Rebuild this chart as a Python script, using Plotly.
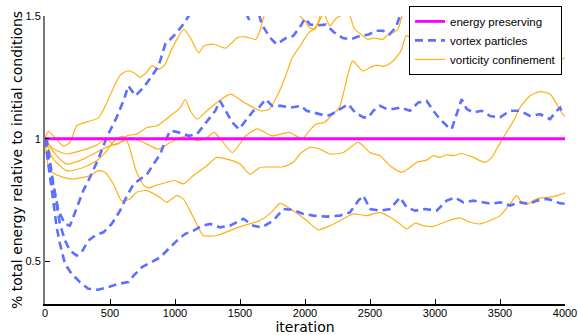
import plotly.graph_objects as go

# ---------------- data ----------------
x_ticks = [0, 500, 1000, 1500, 2000, 2500, 3000, 3500, 4000]
y_ticks = [0.5, 1.0, 1.5]
y_tick_labels = ["0.5", "1", "1.5"]

ep_iter = [0, 4000]
ep_val = [1.0, 1.0]

# vortex particles (dashed blue)
vp1_iter = [0, 13, 38, 64, 103, 154, 192, 244, 295, 346, 410, 474, 551, 603, 641, 695, 759, 823, 874, 925, 990, 1054, 1105, 1200, 1400, 1540, 1570, 1600, 1640, 1667, 1731, 1782, 1859, 1910, 1961, 2000, 2040, 2100, 2160, 2220, 2290, 2350, 2420, 2490, 2550, 2600, 2650, 2700, 2730, 2800, 3000, 4000]
vp1_val = [1.0, 1.0, 0.91, 0.815, 0.707, 0.653, 0.646, 0.72, 0.789, 0.843, 0.917, 1.005, 1.087, 1.154, 1.215, 1.175, 1.209, 1.256, 1.297, 1.385, 1.419, 1.459, 1.5, 1.6, 1.62, 1.52, 1.485, 1.52, 1.52, 1.466, 1.412, 1.385, 1.412, 1.419, 1.455, 1.49, 1.465, 1.462, 1.465, 1.435, 1.41, 1.405, 1.418, 1.425, 1.44, 1.44, 1.425, 1.455, 1.5, 1.56, 1.6, 1.6]

vp2_iter = [0, 38, 77, 115, 154, 192, 244, 282, 333, 385, 449, 513, 577, 631, 682, 785, 836, 887, 925, 964, 1028, 1105, 1169, 1221, 1272, 1310, 1346, 1441, 1492, 1544, 1603, 1646, 1697, 1748, 1813, 1890, 1967, 2013, 2064, 2115, 2167, 2205, 2269, 2333, 2385, 2449, 2487, 2526, 2577, 2628, 2679, 2731, 2808, 2872, 2936, 2987, 3038, 3090, 3128, 3167, 3205, 3244, 3295, 3359, 3423, 3500, 3577, 3654, 3731, 3808, 3885, 3936, 3962, 3987]
vp2_val = [1.0, 0.883, 0.761, 0.653, 0.585, 0.545, 0.524, 0.538, 0.585, 0.606, 0.619, 0.653, 0.707, 0.768, 0.816, 0.856, 0.897, 0.938, 0.992, 1.033, 1.026, 1.012, 1.019, 1.053, 1.087, 1.114, 1.154, 1.066, 1.039, 1.073, 1.114, 1.127, 1.161, 1.134, 1.134, 1.127, 1.134, 1.114, 1.107, 1.1, 1.093, 1.1, 1.121, 1.141, 1.107, 1.087, 1.087, 1.114, 1.134, 1.121, 1.121, 1.127, 1.114, 1.148, 1.154, 1.114, 1.08, 1.053, 1.039, 1.1, 1.161, 1.121, 1.107, 1.114, 1.093, 1.087, 1.114, 1.114, 1.093, 1.1, 1.08, 1.114, 1.127, 1.1]

vp3_iter = [0, 38, 64, 90, 115, 154, 205, 269, 333, 410, 487, 564, 641, 682, 746, 823, 887, 951, 1015, 1079, 1144, 1208, 1272, 1346, 1423, 1526, 1603, 1667, 1756, 1833, 1910, 1987, 2064, 2167, 2269, 2346, 2410, 2449, 2500, 2577, 2654, 2731, 2782, 2846, 2923, 3013, 3090, 3154, 3218, 3295, 3372, 3436, 3500, 3577, 3654, 3731, 3782, 3859, 3910, 3962, 4000]
vp3_val = [1.0, 0.843, 0.734, 0.639, 0.572, 0.49, 0.45, 0.416, 0.389, 0.385, 0.396, 0.409, 0.416, 0.443, 0.477, 0.497, 0.517, 0.552, 0.585, 0.613, 0.626, 0.646, 0.653, 0.639, 0.646, 0.674, 0.646, 0.639, 0.667, 0.714, 0.71, 0.694, 0.687, 0.683, 0.687, 0.70, 0.748, 0.768, 0.714, 0.707, 0.714, 0.761, 0.721, 0.707, 0.714, 0.707, 0.748, 0.761, 0.741, 0.748, 0.741, 0.735, 0.741, 0.728, 0.741, 0.735, 0.748, 0.755, 0.748, 0.737, 0.735]

# vorticity confinement (orange)
vc1_iter = [0, 25, 77, 141, 192, 244, 330, 410, 470, 520, 577, 631, 680, 733, 780, 823, 874, 920, 970, 1020, 1067, 1120, 1182, 1221, 1300, 1390, 1479, 1544, 1621, 1660, 1685, 1750, 1850, 1930, 1961, 2000, 2038, 2077, 2103, 2130, 2200, 2400, 3000, 4000]
vc1_val = [1.0, 1.03, 1.005, 0.97, 0.985, 1.053, 1.07, 1.085, 1.14, 1.2, 1.258, 1.276, 1.27, 1.25, 1.27, 1.297, 1.283, 1.30, 1.36, 1.41, 1.446, 1.41, 1.35, 1.378, 1.385, 1.369, 1.412, 1.415, 1.405, 1.45, 1.5, 1.56, 1.58, 1.54, 1.5, 1.48, 1.452, 1.446, 1.48, 1.52, 1.57, 1.6, 1.6, 1.6]

vc2_iter = [0, 60, 167, 300, 400, 470, 530, 580, 631, 708, 785, 862, 964, 1041, 1079, 1118, 1169, 1246, 1323, 1428, 1531, 1659, 1723, 1787, 1851, 1902, 1954, 2000, 2026, 2064, 2103, 2128, 2150, 2170, 2192, 2244, 2295, 2338, 2377, 2443, 2482, 2533, 2598, 2638, 2677, 2715, 2741, 2780, 3000, 4000]
vc2_val = [1.0, 0.96, 0.938, 0.955, 0.975, 1.0, 0.975, 0.985, 1.012, 1.02, 1.046, 1.053, 1.093, 1.127, 1.161, 1.114, 1.08, 1.114, 1.148, 1.182, 1.148, 1.114, 1.12, 1.175, 1.256, 1.33, 1.371, 1.41, 1.43, 1.446, 1.47, 1.50, 1.51, 1.48, 1.459, 1.493, 1.505, 1.51, 1.45, 1.42, 1.405, 1.41, 1.405, 1.425, 1.432, 1.446, 1.49, 1.55, 1.62, 1.62]

vc3_iter = [0, 60, 167, 295, 372, 450, 520, 600, 656, 759, 874, 964, 1092, 1169, 1246, 1300, 1350, 1441, 1544, 1633, 1748, 1877, 1979, 2030, 2085, 2148, 2213, 2264, 2302, 2341, 2367, 2400, 2443, 2500, 2550, 2600, 2662, 2700, 2740, 2780, 2850, 2950, 3050, 3090, 3126, 3200, 3305, 3350, 3423, 3480, 3551, 3577, 3615, 3680, 3756, 3820, 3900, 3974, 4000]
vc3_val = [1.0, 0.95, 0.897, 0.917, 0.938, 0.96, 0.975, 0.99, 1.005, 0.985, 0.958, 0.985, 1.012, 0.992, 1.005, 1.026, 1.0, 0.944, 1.012, 1.04, 1.012, 1.026, 1.0, 1.03, 1.06, 1.066, 1.1, 1.127, 1.2, 1.283, 1.317, 1.30, 1.276, 1.29, 1.30, 1.295, 1.31, 1.33, 1.36, 1.42, 1.40, 1.36, 1.33, 1.30, 1.27, 1.28, 1.263, 1.30, 1.317, 1.30, 1.30, 1.27, 1.324, 1.28, 1.283, 1.30, 1.31, 1.324, 1.33]

vc4_iter = [0, 60, 167, 295, 397, 474, 530, 590, 615, 650, 700, 760, 800, 850, 936, 1000, 1064, 1141, 1244, 1321, 1398, 1500, 1577, 1654, 1750, 1833, 1910, 1961, 2038, 2115, 2192, 2295, 2410, 2500, 2577, 2654, 2744, 2808, 2859, 2936, 2987, 3038, 3090, 3141, 3205, 3295, 3385, 3436, 3474, 3526, 3603, 3654, 3731, 3808, 3885, 3936, 3974, 4000]
vc4_val = [1.0, 0.92, 0.87, 0.883, 0.91, 0.951, 0.99, 1.01, 1.005, 0.965, 0.87, 0.81, 0.80, 0.81, 0.822, 0.83, 0.816, 0.85, 0.89, 0.924, 0.917, 0.897, 0.856, 0.883, 0.885, 0.886, 0.904, 0.938, 0.965, 0.958, 0.938, 0.944, 0.985, 0.944, 0.931, 0.89, 0.863, 0.883, 0.904, 0.913, 0.931, 0.924, 0.935, 0.931, 0.94, 0.924, 0.904, 0.924, 0.958, 1.005, 1.073, 1.127, 1.175, 1.192, 1.182, 1.141, 1.107, 1.09]

vc5_iter = [0, 38, 141, 218, 346, 410, 462, 526, 590, 654, 705, 782, 885, 936, 1013, 1064, 1141, 1218, 1321, 1423, 1526, 1654, 1740, 1808, 1910, 2013, 2102, 2192, 2295, 2372, 2474, 2577, 2654, 2731, 2782, 2846, 2910, 2987, 3090, 3192, 3269, 3346, 3423, 3500, 3577, 3628, 3667, 3705, 3756, 3808, 3910, 3974, 4000]
vc5_val = [1.0, 0.87, 0.843, 0.836, 0.85, 0.87, 0.863, 0.816, 0.748, 0.755, 0.782, 0.789, 0.761, 0.741, 0.768, 0.755, 0.68, 0.606, 0.606, 0.626, 0.646, 0.667, 0.70, 0.737, 0.707, 0.667, 0.629, 0.646, 0.674, 0.694, 0.687, 0.70, 0.68, 0.653, 0.633, 0.656, 0.646, 0.643, 0.664, 0.678, 0.66, 0.653, 0.667, 0.687, 0.735, 0.768, 0.741, 0.732, 0.748, 0.759, 0.764, 0.775, 0.78]

# ---------------- styles ----------------
ORANGE = "rgb(255,176,20)"
BLUE = "rgb(92,112,255)"
MAGENTA = "rgb(255,0,255)"

fig = go.Figure()

vc_series = [(vc1_iter, vc1_val), (vc2_iter, vc2_val), (vc3_iter, vc3_val),
             (vc4_iter, vc4_val), (vc5_iter, vc5_val)]
for i, (xs, ys) in enumerate(vc_series):
    fig.add_trace(go.Scatter(
        x=xs, y=ys, mode="lines", name="vorticity confinement",
        legendgroup="vc", showlegend=(i == 0), legendrank=3,
        line=dict(color=ORANGE, width=1.2, shape="spline", smoothing=0.6)))

vp_series = [(vp1_iter, vp1_val), (vp2_iter, vp2_val), (vp3_iter, vp3_val)]
for i, (xs, ys) in enumerate(vp_series):
    fig.add_trace(go.Scatter(
        x=xs, y=ys, mode="lines", name="vortex particles",
        legendgroup="vp", showlegend=(i == 0), legendrank=2,
        line=dict(color=BLUE, width=2.6, dash="8px,5px")))

fig.add_trace(go.Scatter(
    x=ep_iter, y=ep_val, mode="lines", name="energy preserving",
    legendgroup="ep", legendrank=1,
    line=dict(color=MAGENTA, width=2.8)))

TICKFONT = dict(family="Liberation Sans, Arial", size=11, color="black")
TITLEFONT = dict(family="DejaVu Sans", size=14, color="black")

fig.update_layout(
    width=578, height=335,
    margin=dict(l=45, r=13, t=16, b=31, autoexpand=False),
    paper_bgcolor="white", plot_bgcolor="white",
    showlegend=True,
    legend=dict(
        x=0.9942, xanchor="right", y=1.035, yanchor="top",
        bgcolor="white", bordercolor="black", borderwidth=1,
        font=dict(family="Liberation Sans, Arial", size=11.5, color="black"),
        tracegroupgap=0, itemwidth=30),
    xaxis=dict(
        range=[0, 4000], tickvals=x_ticks, ticktext=[str(v) for v in x_ticks],
        showgrid=False, zeroline=False, showline=True, linecolor="black", linewidth=1.5,
        ticks="inside", ticklen=5, tickcolor="black", tickfont=TICKFONT, automargin=False,
        ticklabelstandoff=-2,
        title=dict(text="iteration", font=TITLEFONT, standoff=1)),
    yaxis=dict(
        range=[0.327, 1.5], tickvals=y_ticks, ticktext=y_tick_labels,
        showgrid=False, zeroline=False, showline=True, linecolor="#777777", linewidth=2,
        ticks="inside", ticklen=5, tickcolor="black", tickfont=TICKFONT, automargin=False,
        title=dict(text="% total energy relative to initial conditions", font=TITLEFONT, standoff=0)),
)

fig.write_html("out.html", config={"displayModeBar": False},
               post_script="document.body.style.margin='0px';")
